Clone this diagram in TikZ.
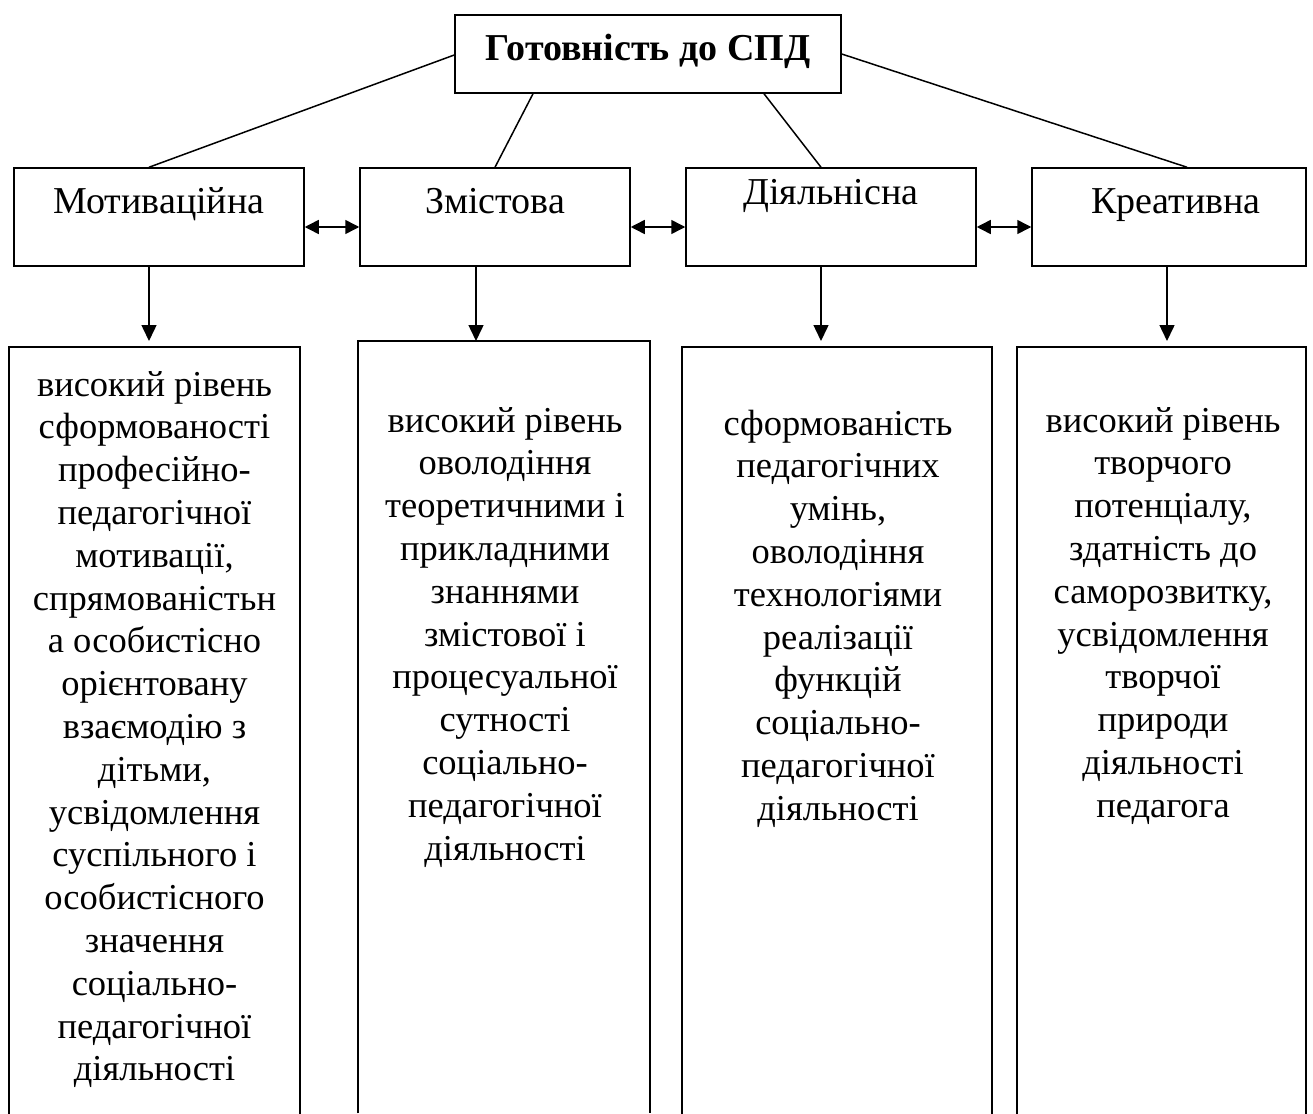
\documentclass[tikz,border=0pt]{standalone}
\usepackage{fontspec}
\setmainfont{Liberation Serif}
\usetikzlibrary{arrows.meta}
\begin{document}
\begin{tikzpicture}[x=1pt,y=-1pt,
  frame/.style={draw, line width=1.5pt, inner sep=0pt, minimum height=98pt},
  open/.style={inner sep=0pt, minimum height=772pt},
  conn/.style={line width=1.5pt},
  arr/.style={line width=1.5pt, -{Triangle[length=16pt,width=15pt]}},
  darr/.style={line width=1.5pt, {Triangle[length=14pt,width=14pt]}-{Triangle[length=14pt,width=14pt]}},
  lab/.style={font=\fontsize{38}{42}\selectfont, anchor=base, inner sep=0pt},
  body/.style={font=\fontsize{36.5}{42.8}\selectfont, align=center, anchor=north, inner sep=0pt}]
\useasboundingbox (0,0) rectangle (1313,1113);

% top box
\node[frame, minimum width=386pt, minimum height=78pt] (t) at (648,54) {};
\node[font=\fontsize{38}{44}\selectfont\bfseries, anchor=base, inner sep=0pt] (tt) at (648,61) {Готовність до СПД};

% second row
\node[frame, minimum width=290pt] (m) at (159,217) {};
\node[frame, minimum width=270pt] (z) at (495,217) {};
\node[frame, minimum width=290pt] (d) at (831,217) {};
\node[frame, minimum width=274pt] (k) at (1169,217) {};
\node[lab] (mt) at (159,213) {Мотиваційна};
\node[lab] (zt) at (495,213) {Змістова};
\node[lab] (dt) at (831,204) {Діяльнісна};
\node[lab] (kt) at (1176,213) {Креативна};

% connectors from top
\draw[conn] ([yshift=-1pt]t.west) -- ([xshift=-10pt]m.north);
\draw[conn] ([xshift=-115pt]t.south) -- (z.north);
\draw[conn] ([xshift=116pt]t.south) -- ([xshift=-10pt]d.north);
\draw[conn] (t.east) -- ([xshift=18pt]k.north);

% double arrows
\draw[darr] ([yshift=-10pt]m.east) -- ([yshift=-10pt]z.west);
\draw[darr] ([yshift=-10pt]z.east) -- ([yshift=-10pt]d.west);
\draw[darr] ([yshift=-10pt]d.east) -- ([yshift=-10pt]k.west);

% bottom boxes (open at the bottom)
\node[open, minimum width=291pt, anchor=north] (b1) at (154.5,347) {};
\node[open, minimum width=292pt, anchor=north] (b2) at (504,341) {};
\node[open, minimum width=310pt, anchor=north] (b3) at (837,347) {};
\node[open, minimum width=289pt, anchor=north] (b4) at (1161.5,347) {};
\foreach \b in {b1,b2,b3,b4}
  \draw[conn] (\b.south west) -- (\b.north west) -- (\b.north east) -- (\b.south east);

% down arrows
\draw[arr, shorten >=6pt] ([xshift=-10pt]m.south) -- ([xshift=-10pt]m.south |- b1.north);
\draw[arr] ([xshift=-19pt]z.south) -- ([xshift=-19pt]z.south |- b2.north);
\draw[arr, shorten >=6pt] ([xshift=-10pt]d.south) -- ([xshift=-10pt]d.south |- b3.north);
\draw[arr, shorten >=6pt] ([xshift=-2pt]k.south) -- ([xshift=-2pt]k.south |- b4.north);

% body texts
\node[body] (x1) at (154.5,366) {\strut високий рівень\\сформованості\\професійно-\\педагогічної\\мотивації,\\спрямованістьн\\а особистісно\\орієнтовану\\взаємодію з\\дітьми,\\усвідомлення\\суспільного і\\особистісного\\значення\\соціально-\\педагогічної\\діяльності};
\node[body] (x2) at (505,402) {\strut високий рівень\\оволодіння\\теоретичними і\\прикладними\\знаннями\\змістової і\\процесуальної\\сутності\\соціально-\\педагогічної\\діяльності};
\node[body] (x3) at (838,405) {\strut сформованість\\педагогічних\\умінь,\\оволодіння\\технологіями\\реалізації\\функцій\\соціально-\\педагогічної\\діяльності};
\node[body] (x4) at (1163,402) {\strut високий рівень\\творчого\\потенціалу,\\здатність до\\саморозвитку,\\усвідомлення\\творчої\\природи\\діяльності\\педагога};
\end{tikzpicture}
\end{document}
